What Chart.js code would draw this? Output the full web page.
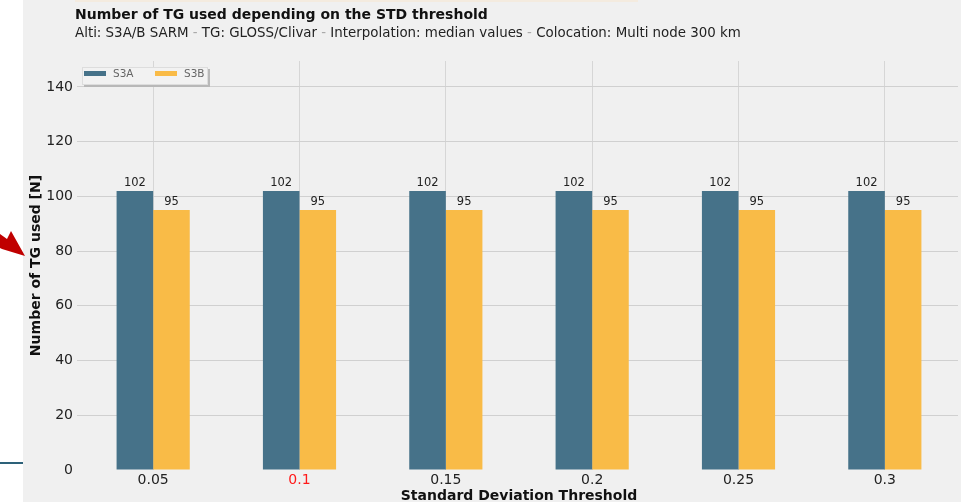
<!DOCTYPE html>
<html>
<head>
<meta charset="utf-8">
<script src="https://cdn.jsdelivr.net/npm/chart.js@4.4.0/dist/chart.umd.min.js"></script>
<style>
    body { margin: 0; background: #ffffff; }
    canvas { display: block; }
</style>
</head>
<body>
<canvas id="barChart" width="961" height="502"></canvas>
<script>
var thresholds = ['0.05', '0.1', '0.15', '0.2', '0.25', '0.3'];
var s3aCounts = [102, 102, 102, 102, 102, 102];
var s3bCounts = [95, 95, 95, 95, 95, 95];
var yTicks = [0, 20, 40, 60, 80, 100, 120, 140];

var FONT = "'DejaVu Sans', sans-serif";
var subtitleParts = ['Alti: S3A/B SARM', 'TG: GLOSS/Clivar', 'Interpolation: median values', 'Colocation: Multi node 300 km'];

// background, titles and the red arrow on the left
var backdrop = {
    id: 'backdrop',
    beforeDraw: function (chart) {
        var ctx = chart.ctx;
        ctx.save();
        ctx.fillStyle = '#ffffff';
        ctx.fillRect(0, 0, 961, 502);
        ctx.fillStyle = '#f0f0f0';
        ctx.fillRect(23, 0, 938, 502);
        ctx.fillStyle = '#f4ebdf';
        ctx.fillRect(75, 0, 563, 2);

        ctx.fillStyle = '#111';
        ctx.textBaseline = 'middle';
        ctx.textAlign = 'left';
        ctx.font = 'bold 14px ' + FONT;
        ctx.fillText('Number of TG used depending on the STD threshold', 75, 15);

        // subtitle, the separators are lighter
        ctx.font = '13.4px ' + FONT;
        var x = 75;
        subtitleParts.forEach(function (part, i) {
            if (i > 0) {
                ctx.fillStyle = '#aaa';
                ctx.fillText(' - ', x, 34);
                x += ctx.measureText(' - ').width;
            }
            ctx.fillStyle = '#222';
            ctx.fillText(part, x, 34);
            x += ctx.measureText(part).width;
        });

        // arrow pointing at the axis title
        ctx.fillStyle = '#c00000';
        ctx.beginPath();
        ctx.moveTo(25, 256);
        ctx.lineTo(11, 231);
        ctx.lineTo(7, 239);
        ctx.lineTo(0, 234);
        ctx.lineTo(0, 248);
        ctx.lineTo(2, 249);
        ctx.closePath();
        ctx.fill();

        ctx.strokeStyle = '#2d6179';
        ctx.lineWidth = 2;
        ctx.beginPath();
        ctx.moveTo(0, 463);
        ctx.lineTo(23, 463);
        ctx.stroke();
        ctx.restore();
    }
};

// values on top of the bars
var barValues = {
    id: 'barValues',
    afterDatasetsDraw: function (chart) {
        var ctx = chart.ctx;
        ctx.save();
        ctx.font = '11.5px ' + FONT;
        ctx.fillStyle = '#222';
        ctx.textAlign = 'center';
        ctx.textBaseline = 'bottom';
        chart.data.datasets.forEach(function (ds, i) {
            chart.getDatasetMeta(i).data.forEach(function (bar, j) {
                ctx.fillText(ds.data[j], bar.x, bar.y - 2);
            });
        });
        ctx.restore();
    }
};

// legend box inside the plot, top left
var boxLegend = {
    id: 'boxLegend',
    afterDraw: function (chart) {
        var ctx = chart.ctx;
        var x = 82, y = 67, w = 126, h = 18;
        ctx.save();
        ctx.fillStyle = '#b8b8b8';
        ctx.fillRect(x + 2, y + 2, w, h);
        ctx.fillStyle = '#f2f2f2';
        ctx.fillRect(x, y, w, h);
        ctx.strokeStyle = '#dddddd';
        ctx.lineWidth = 1;
        ctx.strokeRect(x + 0.5, y + 0.5, w - 1, h - 1);
        ctx.font = '10.5px ' + FONT;
        ctx.textBaseline = 'middle';
        ctx.textAlign = 'left';
        chart.data.datasets.forEach(function (ds, i) {
            var sx = x + 2 + i * 71;
            ctx.fillStyle = ds.backgroundColor;
            ctx.fillRect(sx, y + 4, 22, 5);
            ctx.fillStyle = '#666';
            ctx.fillText(ds.label, sx + 29, y + 7);
        });
        ctx.restore();
    }
};

var data = {
    labels: thresholds,
    datasets: [
        {
            label: 'S3A',
            backgroundColor: '#467289',
            data: s3aCounts
        },
        {
            label: 'S3B',
            backgroundColor: '#f9bb47',
            data: s3bCounts
        }
    ]
};

var options = {
    responsive: false,
    animation: false,
    layout: { padding: { left: 23, top: 61, right: 3, bottom: 0 } },
    datasets: { bar: { categoryPercentage: 0.5, barPercentage: 1.0 } },
    plugins: {
        legend: { display: false },
        title: { display: false },
        tooltip: { enabled: false }
    },
    scales: {
        x: {
            afterFit: function (scale) { scale.height = 32; },
            grid: { offset: false, color: '#d6d6d6', drawTicks: false },
            border: { display: false },
            ticks: {
                padding: 2,
                font: { family: FONT, size: 14 },
                color: function (c) { return c.index === 1 ? '#ff1a1a' : '#222'; }
            },
            title: {
                display: true,
                text: 'Standard Deviation Threshold',
                font: { family: FONT, size: 14, weight: 'bold' },
                color: '#111',
                padding: { top: 0, bottom: -3 }
            }
        },
        y: {
            min: 0,
            max: 149.5,
            afterFit: function (scale) { scale.width = 57; },
            afterBuildTicks: function (scale) {
                scale.ticks = yTicks.map(function (v) { return { value: v }; });
            },
            grid: {
                color: function (c) { return c.tick && c.tick.value === 0 ? 'rgba(0,0,0,0)' : '#d0d0d0'; },
                tickLength: 3
            },
            border: { display: false },
            ticks: {
                padding: 4,
                font: { family: FONT, size: 14 },
                color: '#222'
            },
            title: {
                display: true,
                text: 'Number of TG used [N]',
                font: { family: FONT, size: 14, weight: 'bold' },
                color: '#111',
                padding: { top: 5, bottom: 0 }
            }
        }
    }
};

var ctx = document.getElementById('barChart').getContext('2d');
new Chart(ctx, { type: 'bar', data: data, options: options, plugins: [backdrop, barValues, boxLegend] });
</script>
</body>
</html>
